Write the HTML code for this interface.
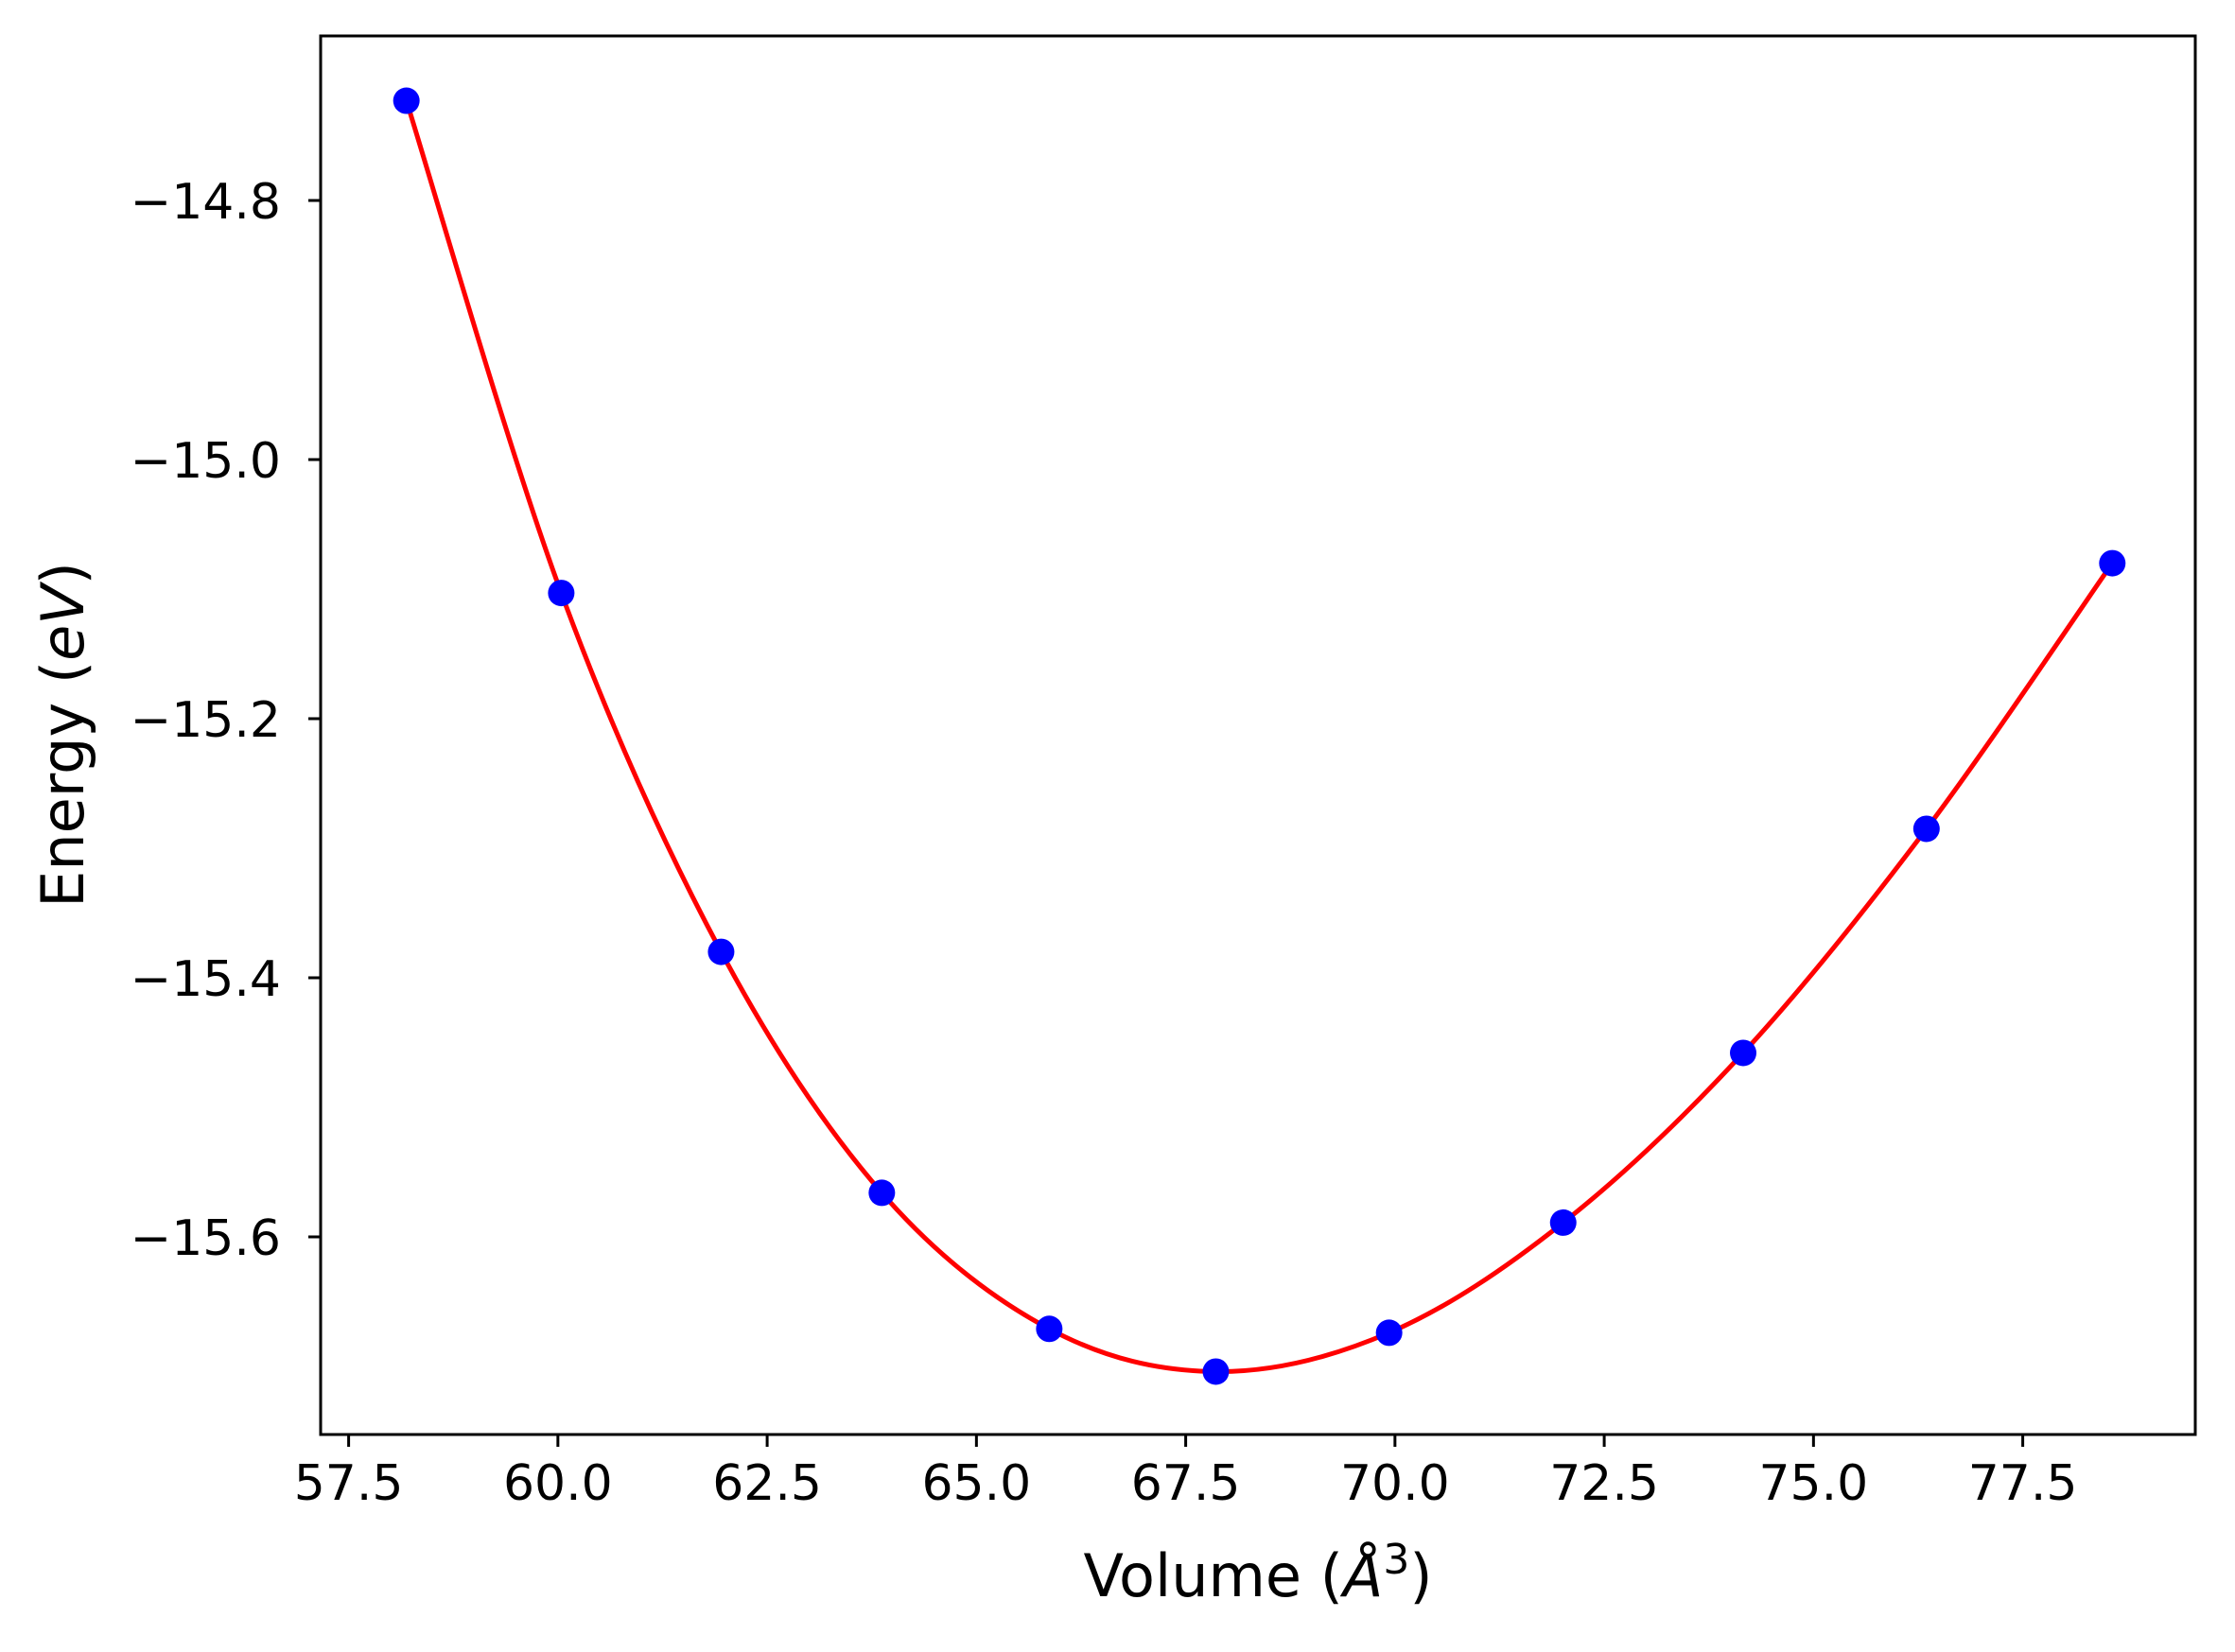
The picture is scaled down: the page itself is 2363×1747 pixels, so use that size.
<!DOCTYPE html>
<html><head><meta charset="utf-8"><style>
html,body{margin:0;padding:0;background:#fff}
svg{display:block;font-family:"DejaVu Sans","Liberation Sans",sans-serif}
</style></head><body>
<svg id="chart" width="2363" height="1747" viewBox="0 0 2363 1747" xmlns="http://www.w3.org/2000/svg">
<rect width="2363" height="1747" fill="#fff"/>
<g id="marks"></g>
<g id="axes"></g>
<text x="1330" y="1688" font-size="62" text-anchor="middle">Volume (<tspan font-style="italic">Å</tspan><tspan font-size="44" dy="-24">3</tspan><tspan dy="24">)</tspan></text>
<text transform="translate(88,777) rotate(-90)" font-size="62" text-anchor="middle">Energy (<tspan font-style="italic">eV</tspan>)</text>
</svg>
<script>
const volumes = [58.19, 60.04, 61.95, 63.87, 65.87, 67.86, 69.93, 72.01, 74.16, 76.35, 78.57];
const energies = [-14.723, -15.103, -15.380, -15.566, -15.671, -15.704, -15.674, -15.589, -15.458, -15.285, -15.080];
const xTicks = [57.5, 60.0, 62.5, 65.0, 67.5, 70.0, 72.5, 75.0, 77.5];
const yTicks = [-14.8, -15.0, -15.2, -15.4, -15.6];

const L = 339, R = 2321, T = 38, B = 1517;
function xs(v){ return 368.6 + (v - 57.5) * 88.5; }
function ys(e){ return 212 + (-14.8 - e) * 1370; }
const NS = "http://www.w3.org/2000/svg";
const marks = document.getElementById('marks');
const axes = document.getElementById('axes');

// smooth fit curve (Catmull-Rom through points)
const P = volumes.map((v,i)=>[xs(v), ys(energies[i])]);
let d = `M${P[0][0]},${P[0][1]}`;
for (let i=0;i<P.length-1;i++){
  const p0=P[Math.max(i-1,0)], p1=P[i], p2=P[i+1], p3=P[Math.min(i+2,P.length-1)];
  const c1=[p1[0]+(p2[0]-p0[0])/6, p1[1]+(p2[1]-p0[1])/6];
  const c2=[p2[0]-(p3[0]-p1[0])/6, p2[1]-(p3[1]-p1[1])/6];
  d += ` C${c1[0]},${c1[1]} ${c2[0]},${c2[1]} ${p2[0]},${p2[1]}`;
}
const path = document.createElementNS(NS,'path');
path.setAttribute('d', d);
path.setAttribute('fill','none');
path.setAttribute('stroke','#ff0000');
path.setAttribute('stroke-width','5');


marks.appendChild(path);

volumes.forEach((v,i)=>{
  const c = document.createElementNS(NS,'circle');
  c.setAttribute('cx', xs(v));
  c.setAttribute('cy', ys(energies[i]));
  c.setAttribute('r', 14);
  c.setAttribute('fill', '#0000ff');
  
  
  marks.appendChild(c);
});

const frame = document.createElementNS(NS,'rect');
frame.setAttribute('x', L); frame.setAttribute('y', T);
frame.setAttribute('width', R-L); frame.setAttribute('height', B-T);
frame.setAttribute('fill','none'); frame.setAttribute('stroke','#000'); frame.setAttribute('stroke-width','3');


axes.appendChild(frame);

xTicks.forEach(t=>{
  const x = xs(t);
  const ln = document.createElementNS(NS,'line');
  ln.setAttribute('x1',x); ln.setAttribute('x2',x); ln.setAttribute('y1',B); ln.setAttribute('y2',B+13);
  ln.setAttribute('stroke','#000'); ln.setAttribute('stroke-width','3');
  
  
  axes.appendChild(ln);
  const tx = document.createElementNS(NS,'text');
  tx.setAttribute('x',x); tx.setAttribute('y',B+69);
  tx.setAttribute('font-size','52'); tx.setAttribute('text-anchor','middle');
  
  
  tx.textContent = t.toFixed(1);
  axes.appendChild(tx);
});
yTicks.forEach(t=>{
  const y = ys(t);
  const ln = document.createElementNS(NS,'line');
  ln.setAttribute('x1',L-13); ln.setAttribute('x2',L); ln.setAttribute('y1',y); ln.setAttribute('y2',y);
  ln.setAttribute('stroke','#000'); ln.setAttribute('stroke-width','3');
  
  
  axes.appendChild(ln);
  const tx = document.createElementNS(NS,'text');
  tx.setAttribute('x',L-42); tx.setAttribute('y',y+19);
  tx.setAttribute('font-size','52'); tx.setAttribute('text-anchor','end');
  
  
  tx.textContent = '\u2212' + Math.abs(t).toFixed(1);
  axes.appendChild(tx);
});
</script>
</body></html>
